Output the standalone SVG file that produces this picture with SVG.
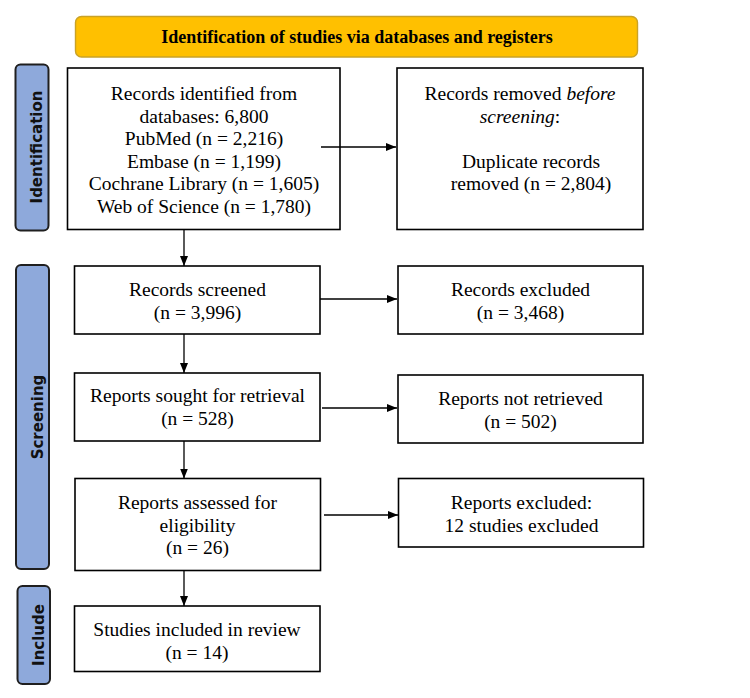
<svg xmlns="http://www.w3.org/2000/svg" width="750" height="698" viewBox="0 0 750 698">
<style>
.box{fill:#fff;stroke:#000;stroke-width:1.6}
.side{fill:#8EA9DB;stroke:#1f1f1f;stroke-width:2}
.t{font-family:"Liberation Serif","Times New Roman",serif;font-size:19.5px;fill:#000;text-anchor:middle}
.s{font-family:"DejaVu Sans",sans-serif;font-weight:bold;font-size:15px;fill:#111;text-anchor:middle}
.c{stroke:#000;stroke-width:1.3;fill:none;marker-end:url(#ah)}
</style>
<defs>
<marker id="ah" markerWidth="10" markerHeight="8" refX="10" refY="4" orient="auto" markerUnits="userSpaceOnUse">
<path d="M0,0 L10,4 L0,8 Z" fill="#000"/>
</marker>
<clipPath id="scr"><rect x="15" y="265" width="32" height="304"/></clipPath>
</defs>
<rect width="750" height="698" fill="#fff"/>

<g id="title">
<rect x="75.5" y="16.5" width="562" height="40.5" rx="6" fill="#FFC000" stroke="#C9A227" stroke-width="1.4"/>
<text x="357" y="43" font-family="Liberation Serif,'Times New Roman',serif" font-weight="bold" font-size="18" text-anchor="middle">Identification of studies via databases and registers</text>
</g>

<g id="lbl-identification">
<rect class="side" x="15.5" y="64.5" width="33" height="166" rx="5"/>
<text class="s" transform="translate(42,147) rotate(-90)">Identification</text>
</g>
<g id="lbl-screening">
<rect class="side" x="16" y="265" width="33" height="304" rx="5"/>
<g clip-path="url(#scr)">
<text class="s" transform="translate(43,417) rotate(-90)">Screening</text>
</g>
</g>
<g id="lbl-include">
<rect class="side" x="17.5" y="586" width="32.5" height="98" rx="5"/>
<text class="s" transform="translate(43.5,635) rotate(-90)">Include</text>
</g>

<g id="n-identified">
<rect class="box" x="67.5" y="68" width="272.5" height="161.5"/>
<text class="t" x="204" y="100">Records identified from</text>
<text class="t" x="204" y="122.5">databases: 6,800</text>
<text class="t" x="204" y="145">PubMed (n = 2,216)</text>
<text class="t" x="204" y="167.5">Embase (n = 1,199)</text>
<text class="t" x="204" y="190">Cochrane Library (n = 1,605)</text>
<text class="t" x="204" y="212.5">Web of Science (n = 1,780)</text>
</g>
<g id="n-removed">
<rect class="box" x="397" y="68" width="246" height="161.5"/>
<text class="t" x="520" y="100">Records removed <tspan font-style="italic">before</tspan></text>
<text class="t" x="520" y="122.5"><tspan font-style="italic">screening</tspan>:</text>
<text class="t" x="531" y="167.5">Duplicate records</text>
<text class="t" x="531" y="190">removed (n = 2,804)</text>
</g>

<g id="n-screened">
<rect class="box" x="74.5" y="266" width="245.5" height="68"/>
<text class="t" x="197.5" y="296">Records screened</text>
<text class="t" x="197.5" y="319">(n = 3,996)</text>
</g>
<g id="n-excluded">
<rect class="box" x="398" y="266" width="245" height="68"/>
<text class="t" x="520.5" y="296">Records excluded</text>
<text class="t" x="520.5" y="319">(n = 3,468)</text>
</g>

<g id="n-sought">
<rect class="box" x="74.5" y="373" width="245.5" height="68"/>
<text class="t" x="197.5" y="402">Reports sought for retrieval</text>
<text class="t" x="197.5" y="425">(n = 528)</text>
</g>
<g id="n-notretrieved">
<rect class="box" x="398" y="375" width="245" height="68"/>
<text class="t" x="520.5" y="404.5">Reports not retrieved</text>
<text class="t" x="520.5" y="427.5">(n = 502)</text>
</g>

<g id="n-assessed">
<rect class="box" x="75" y="478.5" width="245.5" height="92"/>
<text class="t" x="197.5" y="509">Reports assessed for</text>
<text class="t" x="197.5" y="531.5">eligibility</text>
<text class="t" x="197.5" y="554">(n = 26)</text>
</g>
<g id="n-repexcluded">
<rect class="box" x="398.5" y="478.5" width="245" height="68.5"/>
<text class="t" x="521.5" y="509">Reports excluded:</text>
<text class="t" x="521.5" y="531.5">12 studies excluded</text>
</g>

<g id="n-included">
<rect class="box" x="74.5" y="606" width="245.5" height="65.5"/>
<text class="t" x="197" y="636">Studies included in review</text>
<text class="t" x="197" y="658.5">(n = 14)</text>
</g>

<g id="connectors">
<path class="c" d="M321,147 H396"/>
<path class="c" d="M320,299 H397"/>
<path class="c" d="M322,408 H397"/>
<path class="c" d="M324,515 H398"/>
<path class="c" d="M184,230 V266"/>
<path class="c" d="M184,334 V373"/>
<path class="c" d="M184,441 V478.5"/>
<path class="c" d="M184,571 V606"/>
</g>
</svg>
